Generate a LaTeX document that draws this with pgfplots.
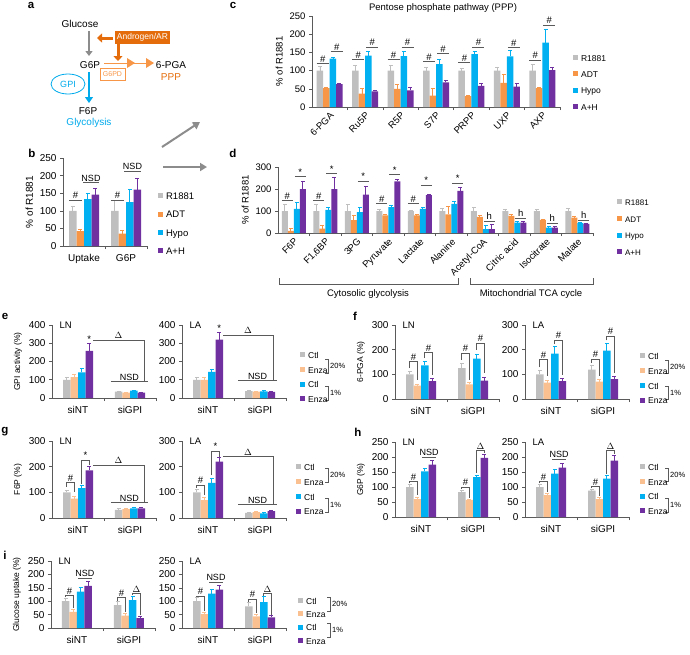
\documentclass[border=0pt]{standalone}
\usepackage{fontspec}
\setmainfont{Liberation Sans}
\usepackage{pgfplots}
\pgfplotsset{compat=1.18}
\usetikzlibrary{arrows.meta}
\definecolor{cR}{RGB}{191,191,191}
\definecolor{cADT}{RGB}{247,150,70}
\definecolor{cHy}{RGB}{0,176,240}
\definecolor{cAH}{RGB}{112,48,160}
\definecolor{cEz}{RGB}{250,192,143}
\definecolor{axg}{RGB}{90,90,90}
\definecolor{oD}{RGB}{228,108,10}
\definecolor{oL}{RGB}{247,150,70}
\definecolor{bA}{RGB}{0,170,235}
\definecolor{arrg}{RGB}{140,140,140}
\newcommand{\fs}[1]{\fontsize{#1}{#1}\selectfont}
\tikzset{sigline/.style={draw=axg, line width=0.6pt}, sigtext/.style={font=\fs{9.5}, inner sep=1pt, text=black}}
\newcommand{\sig}[5]{\draw[sigline] ([xshift=#2]axis cs:#1,#4) -- ([xshift=#3]axis cs:#1,#4) node[midway,above,sigtext]{#5};}
\newcommand{\brk}[7]{\draw[sigline] ([xshift=#2]axis cs:#1,#5) -- ([xshift=#2]axis cs:#1,#4) -- ([xshift=#3]axis cs:#1,#4) node[midway,above,sigtext]{#7} -- ([xshift=#3]axis cs:#1,#6);}
\newcommand{\dlt}[5]{\draw[sigline] ([xshift=#2]axis cs:0,#1) -- ([xshift=#3]axis cs:1,#1) node[midway,above,sigtext]{#5} -- ([xshift=#3]axis cs:1,#4);}
\pgfplotsset{
  bs/.style={fill=#1, draw=none, error bars/.cd, y dir=plus, y explicit,
     error bar style={draw=#1, line width=0.7pt},
     error mark options={rotate=90, mark size=2pt, draw=#1, line width=0.7pt}},
  panel/.style={scale only axis, axis lines*=left,
     axis line style={-, draw=axg, line width=0.6pt},
     tick align=outside, tick style={draw=axg, line width=0.6pt},
     major tick length=3pt, minor tick length=3pt,
     ymin=0, ybar=0pt, major x tick style={draw=none},
     /pgf/number format/assume math mode=true,
     tick label style={font=\fs{9.5}}, label style={font=\fs{9.5}},
     clip=false, legend cell align=left,
     legend image code/.code={\fill[##1] (0pt,-1pt) rectangle (5pt,4pt);},
     legend style={draw=none, fill=none, inner sep=0pt, anchor=north west,
        nodes={inner sep=0pt, text height=6pt, text depth=1.5pt}, column sep=3pt, font=\fs{8.5}}},
  sub/.style={panel, width=104pt, xmin=-0.5, xmax=1.5, xtick={0,1}, xticklabels={siNT,siGPI},
     minor xtick={0.5,1.5}, bar width=7.5pt, tick label style={font=\fs{10}}, label style={font=\fs{8.5}},
     xticklabel style={yshift=-2pt},
     legend style={font=\fs{8.5}, row sep=7pt, nodes={inner sep=0pt, text height=6pt, text depth=1.5pt}}},
}
\begin{document}
\begin{tikzpicture}
\path[use as bounding box] (0pt,0pt) rectangle (690pt,-654pt);
\begin{scope}[x=1pt,y=-1pt]
% panel a diagram
\node[font=\bfseries\fs{11.5}] at (31,5) {a};
\node[font=\fs{10}] at (80,24) {Glucose};
\draw[arrg, line width=1.6pt, -{Triangle[width=7pt,length=5pt]}] (89,31) -- (89,56);
\node[fill=oD, text=white, font=\fs{8.5}, inner xsep=2pt, inner ysep=2pt, minimum height=13pt] at (142.5,37.5) {Androgen/AR};
\draw[oD, line width=3pt, -{Triangle[width=9pt,length=5pt]}] (113,38) -- (97,38);
\draw[oD, line width=3pt, -{Triangle[width=9pt,length=5pt]}] (118,44) -- (118,61);
\node[font=\fs{10}] at (90,65) {G6P};
\draw[oL, line width=1pt] (104,63) -- (150,63);
\fill[oL] (127,58) -- (135,63) -- (127,68) -- cycle;
\fill[oL] (146,58) -- (154,63) -- (146,68) -- cycle;
\node[draw=oL, text=oL, line width=0.6pt, font=\fs{7}, inner sep=1pt, minimum width=25pt, minimum height=12pt] at (112.5,74) {G6PD};
\node[font=\fs{10}] at (171,65) {6-PGA};
\node[font=\fs{10}, text=oD] at (171,77) {PPP};
\draw[bA, line width=1.2pt, -{Triangle[width=8pt,length=6pt]}] (89,72) -- (89,103);
\draw[bA, line width=0.8pt] (68,84) ellipse (17 and 10);
\node[text=bA, font=\fs{9}] at (68,84) {GPI};
\node[font=\fs{10}] at (88,111) {F6P};
\node[text=bA, font=\fs{10}] at (89,123) {Glycolysis};
\draw[arrg, line width=2pt, -{Triangle[width=8pt,length=7pt]}] (162,147) -- (200,122);
\draw[arrg, line width=2pt, -{Triangle[width=8pt,length=7pt]}] (163,167) -- (207,167);
% panel letters
\node[font=\bfseries\fs{11.5}] at (32,153) {b};
\node[font=\bfseries\fs{11.5}] at (233,5) {c};
\node[font=\bfseries\fs{11.5}] at (233,153) {d};
\node[font=\bfseries\fs{11.5}] at (5,316) {e};
\node[font=\bfseries\fs{11.5}] at (355,316) {f};
\node[font=\bfseries\fs{11.5}] at (5,432) {g};
\node[font=\bfseries\fs{11.5}] at (358,432) {h};
\node[font=\bfseries\fs{11.5}] at (5,555) {i};
\node[font=\fs{9.5}] at (443,8) {Pentose phosphate pathway (PPP)};
% d brackets
\draw[axg, line width=0.6pt] (279,278) -- (279,284) -- (458,284) -- (458,278);
\node[font=\fs{9.5}] at (368,294) {Cytosolic glycolysis};
\draw[axg, line width=0.6pt] (470,278) -- (470,284) -- (593,284) -- (593,278);
\node[font=\fs{9.5}] at (531,294) {Mitochondrial TCA cycle};
% legend brackets e-i
\foreach \bx/\ya/\yb/\yc/\yd in {328/359/373/386/400, 668/360/373/386/399, 328/468/482/498/512, 668/468/481/498/512, 330/597/611/623/637}{
  \draw[axg, line width=0.6pt] (\bx-3,\ya) -- (\bx,\ya) -- (\bx,\yb) -- (\bx-3,\yb);
  \node[anchor=west, font=\fs{7.5}, inner sep=1pt] at (\bx+1,{(\ya+\yb)/2}) {20\%};
  \draw[axg, line width=0.6pt] (\bx-3,\yc) -- (\bx,\yc) -- (\bx,\yd) -- (\bx-3,\yd);
  \node[anchor=west, font=\fs{7.5}, inner sep=1pt] at (\bx+1,{(\yc+\yd)/2}) {1\%};
}
\end{scope}

% ---------- panel b ----------
\begin{axis}[panel, at={(63pt,-246pt)}, anchor=south west, width=84pt, height=88pt, ymax=250,
  ytick={0,50,...,250}, xmin=-0.5, xmax=1.5, xtick={0,1}, xticklabels={Uptake,G6P},
  minor xtick={0.5,1.5}, bar width=7.5pt, ylabel={\% of R1881}, xticklabel style={yshift=-2pt},
  tick label style={font=\fs{10}}, label style={font=\fs{10}},
  legend style={at={(1.13,0.60)}, row sep=10.5pt, font=\fs{9.5}}]
\addplot[bs=cR] coordinates {(0,100) +- (0,13) (1,100) +- (0,30)};
\addplot[bs=cADT] coordinates {(0,42) +- (0,5) (1,35) +- (0,10)};
\addplot[bs=cHy] coordinates {(0,133) +- (0,17) (1,125) +- (0,35)};
\addplot[bs=cAH] coordinates {(0,146) +- (0,17) (1,160) +- (0,33)};
\legend{R1881,ADT,Hypo,A+H}
\sig{0}{-15pt}{-2pt}{131}{\#}
\sig{0}{-1pt}{15pt}{180}{\fs{9}NSD}
\sig{1}{-15pt}{-2pt}{131}{\#}
\sig{1}{-2pt}{15pt}{213}{\fs{9}NSD}
\end{axis}

% ---------- panel c ----------
\begin{axis}[panel, at={(312pt,-107pt)}, anchor=south west, width=248pt, height=91pt, ymax=250,
  ytick={0,50,...,250}, xmin=-0.5, xmax=6.5, xtick={0,...,6},
  xticklabels={6-PGA,Ru5P,R5P,S7P,PRPP,UXP,AXP},
  minor xtick={0.5,1.5,...,6.5}, bar width=6.5pt, ylabel={\% of R1881},
  xticklabel style={rotate=45, anchor=north east, inner sep=1pt},
  legend style={at={(1.052,0.571)}, row sep=8.5pt}]
\addplot[bs=cR] coordinates {(0,100) +- (0,11) (1,100) +- (0,15) (2,100) +- (0,15) (3,100) +- (0,8) (4,100) +- (0,5) (5,100) +- (0,10) (6,100) +- (0,16)};
\addplot[bs=cADT] coordinates {(0,52) +- (0,3) (1,37) +- (0,13) (2,50) +- (0,12) (3,31) +- (0,19) (4,30) +- (0,3) (5,66) +- (0,24) (6,52) +- (0,2)};
\addplot[bs=cHy] coordinates {(0,133) +- (0,4) (1,141) +- (0,11) (2,140) +- (0,12) (3,118) +- (0,12) (4,145) +- (0,7) (5,139) +- (0,16) (6,177) +- (0,37)};
\addplot[bs=cAH] coordinates {(0,63) +- (0,2) (1,43) +- (0,4) (2,46) +- (0,8) (3,68) +- (0,4) (4,58) +- (0,7) (5,56) +- (0,9) (6,101) +- (0,7)};
\legend{R1881,ADT,Hypo,A+H}
\sig{0}{-13pt}{-1pt}{120}{\#}\sig{0}{1pt}{13pt}{152}{\#}
\sig{1}{-13pt}{-1pt}{130}{\#}\sig{1}{1pt}{13pt}{165}{\#}
\sig{2}{-13pt}{-1pt}{130}{\#}\sig{2}{1pt}{13pt}{165}{\#}
\sig{3}{-13pt}{-1pt}{125}{\#}\sig{3}{1pt}{13pt}{147}{\#}
\sig{4}{-13pt}{-1pt}{122}{\#}\sig{4}{1pt}{13pt}{165}{\#}
\sig{5}{1pt}{13pt}{163}{\#}
\sig{6}{-13pt}{-1pt}{129}{\#}\sig{6}{1pt}{13pt}{225}{\#}
\end{axis}

% ---------- panel d ----------
\begin{axis}[panel, at={(278pt,-233pt)}, anchor=south west, width=315pt, height=66pt, ymax=300,
  ytick={0,100,200,300}, xmin=-0.5, xmax=9.5, xtick={0,...,9},
  xticklabels={F6P,{F1,6BP},3PG,Pyruvate,Lactate,Alanine,Acetyl-CoA,Citric acid,Isocitrate,Malate},
  minor xtick={0.5,1.5,...,9.5}, bar width=6pt, ylabel={\% of R1881},
  xticklabel style={rotate=45, anchor=north east, inner sep=1pt},
  legend style={at={(1.076,0.515)}, row sep=9pt, font=\fs{8}}]
\addplot[bs=cR] coordinates {(0,100) +- (0,28) (1,100) +- (0,28) (2,100) +- (0,30) (3,100) +- (0,8) (4,100) +- (0,4) (5,100) +- (0,13) (6,100) +- (0,18) (7,100) +- (0,8) (8,100) +- (0,6) (9,100) +- (0,12)};
\addplot[bs=cADT] coordinates {(0,10) +- (0,12) (1,20) +- (0,15) (2,58) +- (0,20) (3,80) +- (0,5) (4,80) +- (0,3) (5,85) +- (0,37) (6,73) +- (0,7) (7,78) +- (0,5) (8,60) +- (0,3) (9,70) +- (0,6)};
\addplot[bs=cHy] coordinates {(0,110) +- (0,30) (1,105) +- (0,12) (2,95) +- (0,22) (3,118) +- (0,7) (4,110) +- (0,5) (5,132) +- (0,13) (6,18) +- (0,19) (7,47) +- (0,8) (8,25) +- (0,5) (9,45) +- (0,3)};
\addplot[bs=cAH] coordinates {(0,200) +- (0,35) (1,200) +- (0,55) (2,175) +- (0,38) (3,235) +- (0,10) (4,172) +- (0,3) (5,192) +- (0,16) (6,18) +- (0,22) (7,47) +- (0,5) (8,25) +- (0,5) (9,42) +- (0,2)};
\legend{R1881,ADT,Hypo,A+H}
\sig{0}{-12pt}{-1pt}{147}{\#}\sig{0}{1pt}{12pt}{257}{*}
\sig{1}{-12pt}{-1pt}{147}{\#}\sig{1}{1pt}{12pt}{270}{*}
\sig{2}{1pt}{12pt}{237}{*}
\sig{3}{-12pt}{-1pt}{135}{\#}\sig{3}{1pt}{12pt}{265}{*}
\sig{4}{-12pt}{-1pt}{135}{\#}\sig{4}{1pt}{12pt}{219}{*}
\sig{5}{1pt}{12pt}{227}{*}
\sig{6}{1pt}{12pt}{55}{h}
\sig{7}{1pt}{12pt}{68}{h}
\sig{8}{1pt}{12pt}{45}{h}
\sig{9}{1pt}{12pt}{60}{h}
\end{axis}

% ---------- panel e ----------
\begin{axis}[sub, at={(52pt,-398pt)}, anchor=south west, height=73pt, ymax=400, ytick={0,100,...,400}, ylabel={GPI activity (\%)}]
\addplot[bs=cR] coordinates {(0,100) +- (0,12) (1,35) +- (0,3)};
\addplot[bs=cEz] coordinates {(0,115) +- (0,15) (1,30) +- (0,3)};
\addplot[bs=cHy] coordinates {(0,141) +- (0,19) (1,40) +- (0,3)};
\addplot[bs=cAH] coordinates {(0,258) +- (0,42) (1,30) +- (0,3)};
\node[sigtext, anchor=south] at ([xshift=11.25pt]axis cs:0,300) {*};
\dlt{318}{15pt}{14pt}{91}{$\Delta$}
\sig{1}{-19pt}{18pt}{91}{\fs{9}NSD}
\node[anchor=west, font=\fs{9.5}] at ([xshift=4pt]axis description cs:0,1) {LN};
\end{axis}
\begin{axis}[sub, at={(182pt,-398pt)}, anchor=south west, height=73pt, ymax=400, ytick={0,100,...,400},
  legend style={at={(1.135,0.63)}}]
\addplot[bs=cR] coordinates {(0,100) +- (0,12) (1,38) +- (0,4)};
\addplot[bs=cEz] coordinates {(0,100) +- (0,12) (1,35) +- (0,3)};
\addplot[bs=cHy] coordinates {(0,143) +- (0,15) (1,36) +- (0,4)};
\addplot[bs=cAH] coordinates {(0,320) +- (0,38) (1,33) +- (0,4)};
\legend{Ctl,Enza,Ctl,Enza}
\node[sigtext, anchor=south] at ([xshift=11.25pt]axis cs:0,358) {*};
\dlt{346}{15pt}{13pt}{95}{$\Delta$}
\sig{1}{-22pt}{17pt}{95}{\fs{9}NSD}
\node[anchor=west, font=\fs{9.5}] at ([xshift=4pt]axis description cs:0,1) {LA};
\end{axis}

% ---------- panel f ----------
\begin{axis}[sub, at={(395pt,-399pt)}, anchor=south west, height=74pt, ymax=300, ytick={0,100,200,300}, ylabel={6-PGA (\%)}]
\addplot[bs=cR] coordinates {(0,100) +- (0,14) (1,125) +- (0,18)};
\addplot[bs=cEz] coordinates {(0,54) +- (0,7) (1,59) +- (0,8)};
\addplot[bs=cHy] coordinates {(0,136) +- (0,16) (1,164) +- (0,19)};
\addplot[bs=cAH] coordinates {(0,73) +- (0,10) (1,75) +- (0,11)};
\brk{0}{-11.25pt}{-3.75pt}{152}{125}{78}{\#}
\brk{0}{3.75pt}{11.25pt}{188}{166}{98}{\#}
\brk{1}{-11.25pt}{-3.75pt}{186}{159}{78}{\#}
\brk{1}{3.75pt}{11.25pt}{226}{199}{105}{\#}
\node[anchor=west, font=\fs{9.5}] at ([xshift=4pt]axis description cs:0,1) {LN};
\end{axis}
\begin{axis}[sub, at={(525pt,-399pt)}, anchor=south west, height=74pt, ymax=300, ytick={0,100,200,300},
  legend style={at={(1.106,0.62)}}]
\addplot[bs=cR] coordinates {(0,100) +- (0,15) (1,119) +- (0,19)};
\addplot[bs=cEz] coordinates {(0,66) +- (0,10) (1,70) +- (0,10)};
\addplot[bs=cHy] coordinates {(0,184) +- (0,29) (1,196) +- (0,31)};
\addplot[bs=cAH] coordinates {(0,72) +- (0,10) (1,81) +- (0,11)};
\legend{Ctl,Enza,Ctl,Enza}
\brk{0}{-11.25pt}{-3.75pt}{159}{128}{92}{\#}
\brk{0}{3.75pt}{11.25pt}{240}{222}{96}{\#}
\brk{1}{-11.25pt}{-3.75pt}{161}{148}{95}{\#}
\brk{1}{3.75pt}{11.25pt}{256}{238}{105}{\#}
\node[anchor=west, font=\fs{9.5}] at ([xshift=4pt]axis description cs:0,1) {LA};
\end{axis}

% ---------- panel g ----------
\begin{axis}[sub, at={(52pt,-518pt)}, anchor=south west, height=77pt, ymax=300, ytick={0,100,200,300}, ylabel={F6P (\%)}]
\addplot[bs=cR] coordinates {(0,100) +- (0,8) (1,32) +- (0,4)};
\addplot[bs=cEz] coordinates {(0,76) +- (0,10) (1,35) +- (0,4)};
\addplot[bs=cHy] coordinates {(0,116) +- (0,12) (1,38) +- (0,3)};
\addplot[bs=cAH] coordinates {(0,186) +- (0,16) (1,38) +- (0,4)};
\brk{0}{-11.25pt}{-3.75pt}{138}{121}{102}{\#}
\brk{0}{3.75pt}{11.25pt}{226}{134}{206}{*}
\dlt{206}{15pt}{14pt}{60}{$\Delta$}
\sig{1}{-19pt}{18pt}{60}{\fs{9}NSD}
\node[anchor=west, font=\fs{9.5}] at ([xshift=4pt]axis description cs:0,1) {LN};
\end{axis}
\begin{axis}[sub, at={(182pt,-518pt)}, anchor=south west, height=77pt, ymax=300, ytick={0,100,200,300},
  legend style={at={(1.096,0.70)}}]
\addplot[bs=cR] coordinates {(0,100) +- (0,12) (1,20) +- (0,3)};
\addplot[bs=cEz] coordinates {(0,70) +- (0,10) (1,23) +- (0,3)};
\addplot[bs=cHy] coordinates {(0,137) +- (0,16) (1,18) +- (0,3)};
\addplot[bs=cAH] coordinates {(0,220) +- (0,17) (1,27) +- (0,4)};
\legend{Ctl,Enza,Ctl,Enza}
\brk{0}{-11.25pt}{-3.75pt}{128}{118}{88}{\#}
\brk{0}{3.75pt}{11.25pt}{261}{167}{239}{*}
\dlt{239}{15pt}{13pt}{52}{$\Delta$}
\sig{1}{-22pt}{17pt}{52}{\fs{9}NSD}
\node[anchor=west, font=\fs{9.5}] at ([xshift=4pt]axis description cs:0,1) {LA};
\end{axis}

% ---------- panel h ----------
\begin{axis}[sub, at={(395pt,-517pt)}, anchor=south west, height=75pt, ymax=250, ytick={0,50,...,250}, ylabel={G6P (\%)}]
\addplot[bs=cR] coordinates {(0,100) +- (0,8) (1,83) +- (0,6)};
\addplot[bs=cEz] coordinates {(0,60) +- (0,5) (1,57) +- (0,3)};
\addplot[bs=cHy] coordinates {(0,152) +- (0,11) (1,133) +- (0,7)};
\addplot[bs=cAH] coordinates {(0,175) +- (0,13) (1,197) +- (0,13)};
\brk{0}{-11.25pt}{-3.75pt}{118}{112}{72}{\#}
\sig{0}{1pt}{15pt}{200}{\fs{9}NSD}
\brk{1}{-11.25pt}{-3.75pt}{100}{93}{65}{\#}
\brk{1}{3.75pt}{11.25pt}{222}{147}{214}{$\Delta$}
\node[anchor=west, font=\fs{9.5}] at ([xshift=4pt]axis description cs:0,1) {LN};
\end{axis}
\begin{axis}[sub, at={(525pt,-517pt)}, anchor=south west, height=75pt, ymax=250, ytick={0,50,...,250},
  legend style={at={(1.106,0.707)}}]
\addplot[bs=cR] coordinates {(0,100) +- (0,10) (1,88) +- (0,5)};
\addplot[bs=cEz] coordinates {(0,73) +- (0,5) (1,60) +- (0,5)};
\addplot[bs=cHy] coordinates {(0,145) +- (0,13) (1,128) +- (0,10)};
\addplot[bs=cAH] coordinates {(0,165) +- (0,15) (1,188) +- (0,17)};
\legend{Ctl,Enza,Ctl,Enza}
\brk{0}{-11.25pt}{-3.75pt}{118}{113}{83}{\#}
\sig{0}{1pt}{15pt}{194}{\fs{9}NSD}
\brk{1}{-11.25pt}{-3.75pt}{102}{96}{70}{\#}
\brk{1}{3.75pt}{11.25pt}{222}{145}{210}{$\Delta$}
\node[anchor=west, font=\fs{9.5}] at ([xshift=4pt]axis description cs:0,1) {LA};
\end{axis}

% ---------- panel i ----------
\begin{axis}[sub, at={(51pt,-628pt)}, anchor=south west, height=67pt, ymax=250, ytick={0,50,...,250}, ylabel={Glucose uptake (\%)}]
\addplot[bs=cR] coordinates {(0,100) +- (0,12) (1,85) +- (0,13)};
\addplot[bs=cEz] coordinates {(0,60) +- (0,10) (1,46) +- (0,7)};
\addplot[bs=cHy] coordinates {(0,136) +- (0,16) (1,104) +- (0,14)};
\addplot[bs=cAH] coordinates {(0,157) +- (0,18) (1,37) +- (0,6)};
\brk{0}{-11.25pt}{-3.75pt}{122}{116}{75}{\#}
\sig{0}{1pt}{15pt}{187}{\fs{9}NSD}
\brk{1}{-11.25pt}{-3.75pt}{113}{102}{58}{\#}
\brk{1}{3.75pt}{11.25pt}{128}{122}{48}{$\Delta$}
\node[anchor=west, font=\fs{9.5}] at ([xshift=4pt]axis description cs:0,1) {LN};
\end{axis}
\begin{axis}[sub, at={(182pt,-628pt)}, anchor=south west, height=67pt, ymax=250, ytick={0,50,...,250},
  legend style={at={(1.115,0.448)}, row sep=5.5pt}]
\addplot[bs=cR] coordinates {(0,100) +- (0,13) (1,81) +- (0,14)};
\addplot[bs=cEz] coordinates {(0,52) +- (0,8) (1,43) +- (0,7)};
\addplot[bs=cHy] coordinates {(0,128) +- (0,15) (1,97) +- (0,21)};
\addplot[bs=cAH] coordinates {(0,143) +- (0,17) (1,40) +- (0,6)};
\legend{Ctl,Enza,Ctl,Enza}
\brk{0}{-11.25pt}{-3.75pt}{120}{115}{65}{\#}
\sig{0}{1pt}{15pt}{172}{\fs{9}NSD}
\brk{1}{-11.25pt}{-3.75pt}{108}{98}{55}{\#}
\brk{1}{3.75pt}{11.25pt}{128}{121}{50}{$\Delta$}
\node[anchor=west, font=\fs{9.5}] at ([xshift=4pt]axis description cs:0,1) {LA};
\end{axis}
\end{tikzpicture}
\end{document}
